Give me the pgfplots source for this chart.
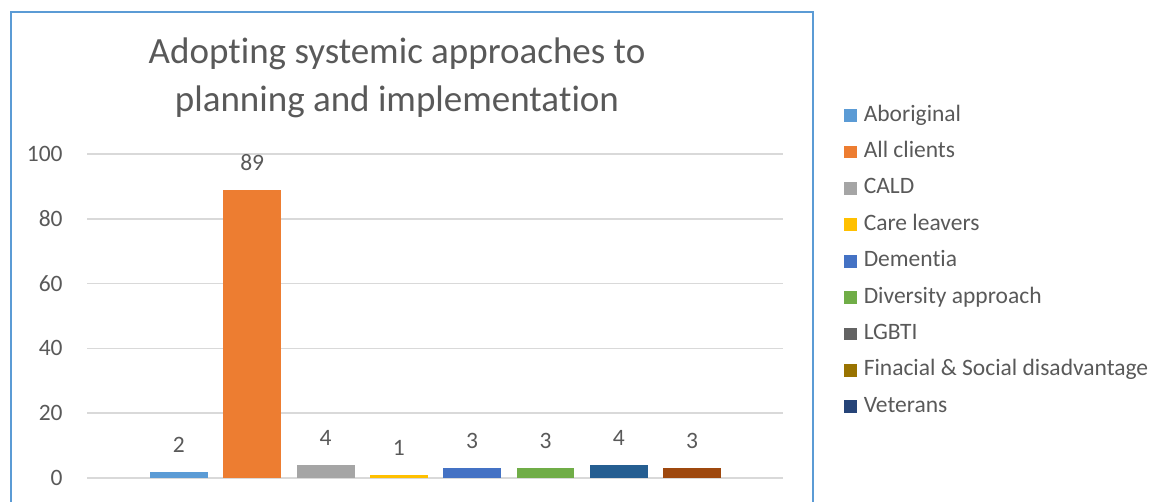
\documentclass[border=0pt]{standalone}
\usepackage{pgfplots}
\pgfplotsset{compat=1.18}
\usepackage{fontspec}
\setmainfont{Carlito}[RawFeature={-liga;-clig;-dlig;-calt}]

\definecolor{txt}{HTML}{595959}
\definecolor{gridc}{HTML}{D9D9D9}
\definecolor{frame}{HTML}{5B9BD5}
\definecolor{cA}{HTML}{5B9BD5}
\definecolor{cB}{HTML}{ED7D31}
\definecolor{cC}{HTML}{A5A5A5}
\definecolor{cD}{HTML}{FFC000}
\definecolor{cE}{HTML}{4472C4}
\definecolor{cF}{HTML}{70AD47}
\definecolor{cG}{HTML}{255E91}
\definecolor{cH}{HTML}{9E480E}
\definecolor{cI}{HTML}{636363}
\definecolor{cJ}{HTML}{997300}
\definecolor{cK}{HTML}{264478}

\begin{document}
\begin{tikzpicture}
\begin{scope}[x=0.5pt,y=0.5pt]
  \path[use as bounding box] (0,0) rectangle (1158,502);
  \begin{scope}
    \clip (0,0) rectangle (1158,502);
    \draw[color=frame, line width=0.75pt] (11,490) rectangle (813,-20);
  \end{scope}
  \node[font=\fontsize{18.5}{24}\selectfont, text=txt, align=center, anchor=center]
    at (397,424) {Adop\kern0ptting systemic approaches to\\planning and implementa\kern0pttion};
\end{scope}

\begin{axis}[
  at={(43.5pt,12pt)}, anchor=south west,
  width=348pt, height=162pt, scale only axis,
  xmin=-1.254, xmax=8.24, ymin=0, ymax=100,
  ytick={0,20,...,100}, xtick=\empty,
  ymajorgrids, grid style={color=gridc, line width=0.75pt},
  axis line style={draw=none},
  major tick length=0pt,
  /pgf/number format/assume math mode=true,
  tick label style={font=\fontsize{11.75}{14}\selectfont, text=txt},
  yticklabel style={inner sep=0pt, xshift=-12pt},
  ybar, bar width=0.79, bar shift=0pt,
  nodes near coords,
  every node near coord/.append style={font=\fontsize{11.75}{14}\selectfont, text=txt, inner sep=0pt, yshift=9.5pt},
  legend image code/.code={\fill[#1] (0pt,-3.2pt) rectangle (6.4pt,3.2pt);},
  legend style={at={(rel axis cs:1.0876,1.151)}, anchor=north west, draw=none, fill=none,
    inner sep=0pt, outer sep=0pt, row sep=7.7pt,
    font=\fontsize{11.75}{14}\selectfont, text=txt,
    nodes={inner sep=0pt, text height=8pt, text depth=2.5pt, anchor=west},
    /tikz/every odd column/.append style={column sep=3.5pt}},
  legend cell align=left,
]
\addplot[fill=cA, draw=none] coordinates {(0,2)};
\addlegendentry{Aboriginal}
\addplot[fill=cB, draw=none] coordinates {(1,89)};
\addlegendentry{All clients}
\addplot[fill=cC, draw=none] coordinates {(2,4)};
\addlegendentry{CALD}
\addplot[fill=cD, draw=none] coordinates {(3,1)};
\addlegendentry{Care leavers}
\addplot[fill=cE, draw=none] coordinates {(4,3)};
\addlegendentry{Dementia}
\addplot[fill=cF, draw=none] coordinates {(5,3)};
\addlegendentry{Diversity approach}
\addplot[fill=cG, draw=none, forget plot] coordinates {(6,4)};
\addplot[fill=cH, draw=none, forget plot] coordinates {(7,3)};
\addlegendimage{fill=cI, draw=none}
\addlegendentry{LGBTI}
\addlegendimage{fill=cJ, draw=none}
\addlegendentry{Finacial \& Social disadvantage}
\addlegendimage{fill=cK, draw=none}
\addlegendentry{Veterans}
\end{axis}
\end{tikzpicture}
\end{document}
